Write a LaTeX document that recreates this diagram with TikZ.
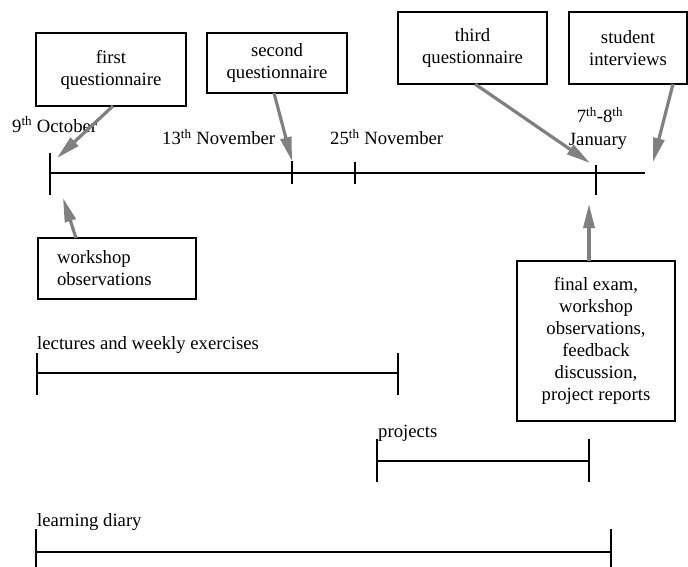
\documentclass[tikz,border=0pt]{standalone}
\usepackage{fontspec}
\setmainfont{Liberation Serif}
\usetikzlibrary{arrows.meta}
\definecolor{arrowgray}{RGB}{128,128,128}
\tikzset{
  box/.style={draw=black, line width=1.4pt, fill=white, align=center, inner sep=0pt},
  lbl/.style={inner sep=0pt},
  bar/.style={draw=black, line width=1.4pt},
  pointer/.style={draw=arrowgray, line width=3.2pt, -{Triangle[length=24pt,width=11pt]}, shorten >=0pt},
}
\begin{document}
\begin{tikzpicture}[x=1pt,y=-1pt, font=\fontsize{18.7}{22}\selectfont]
\useasboundingbox (0,0) rectangle (688,567);
% boxes
\node[box, minimum width=150pt, minimum height=73pt] (b1) at (111,69.5) {first\\questionnaire};
\node[box, minimum width=140pt, minimum height=60pt] (b2) at (277,63) {second\\questionnaire};
\node[box, minimum width=149pt, minimum height=72pt] (b3) at (472.5,48) {third\\questionnaire};
\node[box, minimum width=118pt, minimum height=72pt] (b4) at (628,48) {student\\interviews};
\node[box, minimum width=158pt, minimum height=61pt, align=left, text width=120pt, inner xsep=19pt] (b5) at (117,268.5) {workshop\\observations};
\node[box, minimum width=158pt, minimum height=160pt] (b6) at (596,341) {final exam,\\workshop\\observations,\\feedback\\discussion,\\project reports};
% timeline
\coordinate (t0) at (50,173);
\coordinate (t1) at (292,173);
\coordinate (t2) at (355,173);
\coordinate (t3) at (596,173);
\coordinate (tend) at (645,173);
\draw[bar] (t0) -- (tend);
\draw[bar] (50,153) -- (50,195);
\draw[bar] (292,161) -- (292,184);
\draw[bar] (355,162) -- (355,184);
\draw[bar] (596,165) -- (596,195);
% date labels
\node[lbl, anchor=base west] (d1) at (12,132) {9\textsuperscript{th} October};
\node[lbl, anchor=base west] (d2) at (162,145) {13\textsuperscript{th} November};
\node[lbl, anchor=base west] (d3) at (330,145) {25\textsuperscript{th} November};
\node[lbl, anchor=base] (d4) at (600,123) {7\textsuperscript{th}-8\textsuperscript{th}};
\node[lbl, anchor=base] (d5) at (598,146) {January};
% arrows
\coordinate (a1s) at (113,106);  \coordinate (a1e) at (57,158);
\coordinate (a2s) at (274,93);   \coordinate (a2e) at (292,161);
\coordinate (a3s) at (475,84);   \coordinate (a3e) at (590,163);
\coordinate (a4s) at (673,84);   \coordinate (a4e) at (653,162);
\coordinate (a5s) at (76,238);   \coordinate (a5e) at (63,198);
\coordinate (a6s) at (589,261);  \coordinate (a6e) at (589,204);
\draw[pointer] (a1s) -- (a1e);
\draw[pointer] (a2s) -- (a2e);
\draw[pointer] (a3s) -- (a3e);
\draw[pointer] (a4s) -- (a4e);
\draw[pointer] (a5s) -- (a5e);
\draw[pointer] (a6s) -- (a6e);
% period bars
\node[lbl, anchor=base west] (l1) at (37,349) {lectures and weekly exercises};
\draw[bar] (37,373) -- (398,373);
\draw[bar] (37,353) -- (37,395);
\draw[bar] (398,353) -- (398,395);
\node[lbl, anchor=base west] (l2) at (378,437) {projects};
\draw[bar] (377,461) -- (589,461);
\draw[bar] (377,439) -- (377,482);
\draw[bar] (589,439) -- (589,482);
\node[lbl, anchor=base west] (l3) at (37,526) {learning diary};
\draw[bar] (36,552) -- (611,552);
\draw[bar] (36,529) -- (36,567);
\draw[bar] (611,529) -- (611,567);
\end{tikzpicture}
\end{document}
